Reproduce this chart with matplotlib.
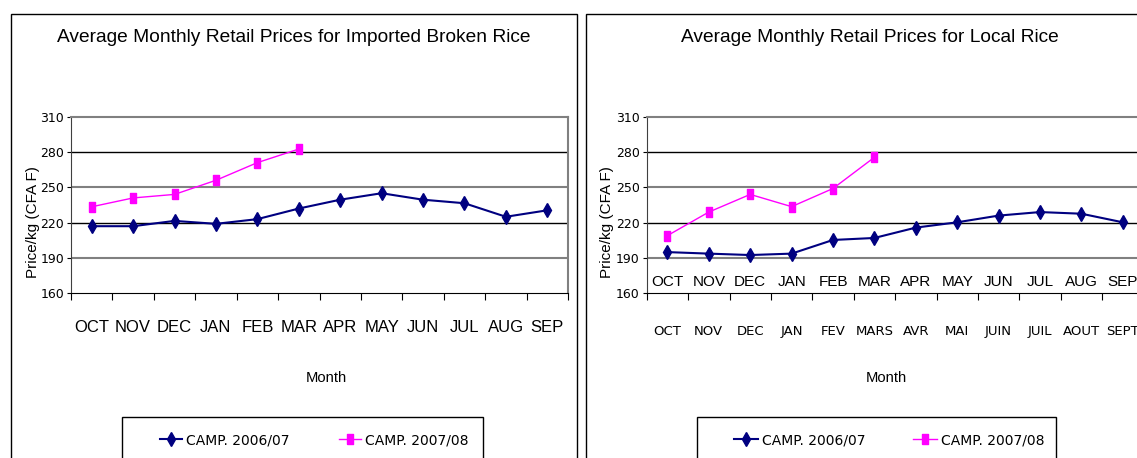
import numpy as np
import matplotlib
matplotlib.use("Agg")
import matplotlib.pyplot as plt
from matplotlib.patches import Rectangle

# --- DATA ---
months_en = ['OCT', 'NOV', 'DEC', 'JAN', 'FEB', 'MAR', 'APR', 'MAY', 'JUN', 'JUL', 'AUG', 'SEP']
months_fr = ['OCT', 'NOV', 'DEC', 'JAN', 'FEV', 'MARS', 'AVR', 'MAI', 'JUIN', 'JUIL', 'AOUT', 'SEPT']

imported_0607 = [217, 217, 221.5, 219, 223, 232, 239.5, 245, 239.5, 236.5, 225, 230.5]
imported_0708 = [233.5, 241, 244, 256, 271, 282.5]
local_0607 = [195, 193.7, 192.5, 193.7, 205.3, 207, 215.8, 220.3, 226, 229, 227.6, 220.3]
local_0708 = [209, 229, 244, 233.6, 249, 275.5]

yticks = [160, 190, 220, 250, 280, 310]
series_labels = ['CAMP. 2006/07', 'CAMP. 2007/08']
titles = ['Average Monthly Retail Prices for Imported Broken Rice',
          'Average Monthly Retail Prices for Local Rice']

# --- STYLE ---
W, H = 1137, 458
ARIAL = ['Liberation Sans', 'DejaVu Sans']
NARROW = ['DejaVu Sans Condensed', 'DejaVu Sans']
BLUE = '#000080'
PINK = '#FF00FF'
rect_marker = [(-0.3, -0.5), (0.3, -0.5), (0.3, 0.5), (-0.3, 0.5), (-0.3, -0.5)]


def fx(px):
    return px / W


def fy(py):
    return 1 - py / H


fig = plt.figure(figsize=(W / 100, H / 100), dpi=100)

# panel frames (run off the bottom / right of the picture)
fig.patches.append(Rectangle((fx(11), -0.1), fx(566), fy(14) + 0.1, fill=False,
                             edgecolor='black', lw=1.0, transform=fig.transFigure, figure=fig))
fig.patches.append(Rectangle((fx(586), -0.1), fx(600), fy(14) + 0.1, fill=False,
                             edgecolor='black', lw=1.0, transform=fig.transFigure, figure=fig))

panels = [
    dict(left=71, width=497, title_x=294, ylab_x=33, month_x=326, box=(122, 483),
         hx=160, hlen=1.6, colsp=3.55, old=imported_0607, new=imported_0708,
         ticklabels=months_en, tickfont=ARIAL, ticksize=12, tickpad=19.5),
    dict(left=646.7, width=496.8, title_x=869.5, ylab_x=607, month_x=886, box=(696.5, 1056),
         hx=733.5, hlen=1.75, colsp=3.4, old=local_0607, new=local_0708,
         ticklabels=months_fr, tickfont=NARROW, ticksize=9.5, tickpad=22.5),
]

x = np.arange(len(months_en))
for i, p in enumerate(panels):
    ax = fig.add_axes([fx(p['left']), fy(293.3), fx(p['width']), 176.6 / H])
    l1, = ax.plot(x, p['old'], color=BLUE, lw=1.5, marker='d', ms=7, mec=BLUE, mfc=BLUE,
                  clip_on=False)
    l2, = ax.plot(x[:len(p['new'])], p['new'], color=PINK, lw=1.0, marker=rect_marker,
                  ms=6.5, mec=PINK, mfc=PINK, clip_on=False)
    ax.set_xlim(-0.5, 11.5)
    ax.set_ylim(160, 310)

    # gridlines
    for v, c, w in [(280, 'black', 1.0), (250, '#808080', 1.5), (220, 'black', 1.0),
                    (190, '#808080', 1.5)]:
        ax.axhline(v, color=c, lw=w, zorder=0.5)

    for s in ['top', 'right']:
        ax.spines[s].set_color('#808080')
        ax.spines[s].set_linewidth(1.5)
    ax.spines['left'].set_color('#404040')
    ax.spines['bottom'].set_color('black')

    ax.set_yticks(yticks)
    ax.set_yticklabels([str(v) for v in yticks], family=NARROW, fontsize=9)
    ax.tick_params(axis='y', direction='out', length=3, pad=2)

    ax.set_xticks(np.arange(13) - 0.5)
    ax.set_xticklabels([])
    ax.tick_params(axis='x', which='major', direction='out', length=5)
    ax.set_xticks(x, minor=True)
    ax.set_xticklabels(p['ticklabels'], minor=True, family=p['tickfont'], fontsize=p['ticksize'])
    ax.tick_params(axis='x', which='minor', length=0, pad=p['tickpad'])

    fig.text(fx(p['title_x']), fy(37), titles[i], ha='center', va='center',
             family=ARIAL, fontsize=13.8)
    fig.text(fx(p['ylab_x']), fy(222.5), 'Price/kg (CFA F)', rotation=90, ha='center',
             va='center', family=ARIAL, fontsize=11)
    fig.text(fx(p['month_x']), fy(378), 'Month', ha='center', va='center',
             family=ARIAL, fontsize=10.6)

    # legend box and entries
    b0, b1 = p['box']
    fig.patches.append(Rectangle((fx(b0), -0.1), fx(b1 - b0), fy(417) + 0.1, fill=False,
                                 edgecolor='black', lw=1.0, transform=fig.transFigure,
                                 figure=fig))
    ax.legend([l1, l2], series_labels, loc='center left',
              bbox_to_anchor=(fx(p['hx']), fy(440)), bbox_transform=fig.transFigure,
              ncol=2, frameon=False, borderpad=0, borderaxespad=0, numpoints=1,
              handlelength=p['hlen'], handletextpad=0.29, columnspacing=p['colsp'],
              prop=dict(family=NARROW, size=10))

    # local rice chart carries a second row of month names inside the plot
    if i == 1:
        for xi, m in zip(x, months_en):
            ax.text(xi, 170, m, ha='center', va='center', family=ARIAL, fontsize=11)

fig.savefig('out.png', dpi=100)
